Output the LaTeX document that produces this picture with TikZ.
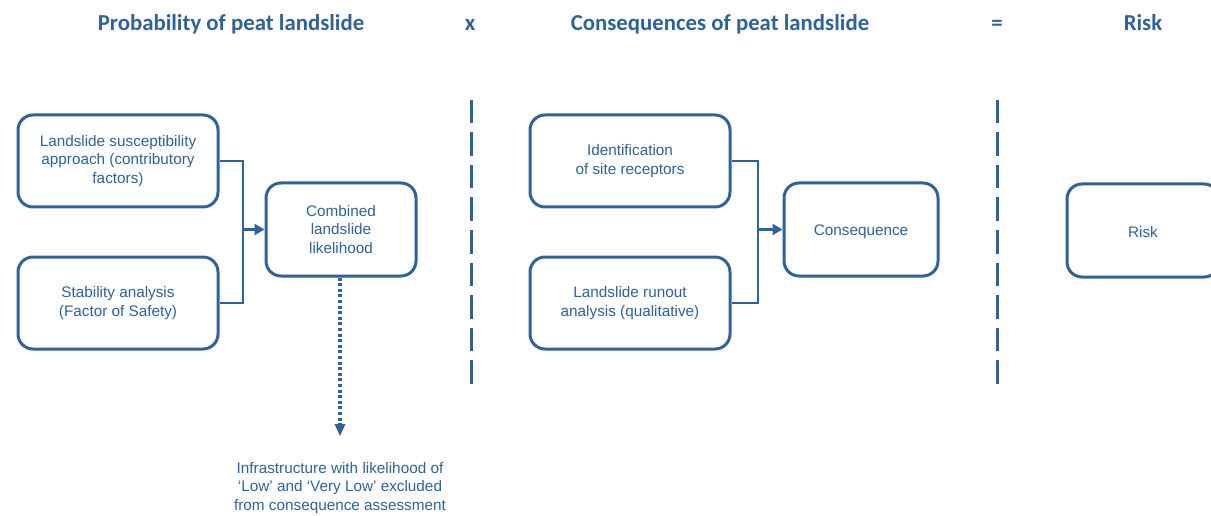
\documentclass[tikz,border=0pt]{standalone}
\usepackage{fontspec}
\setmainfont{Liberation Sans}
\newfontfamily\titlefont{Carlito}
\usetikzlibrary{arrows.meta,calc}
\definecolor{pblue}{RGB}{47,98,152}
\begin{document}
\begin{tikzpicture}[x=1pt,y=-1pt,
  box/.style={draw=pblue, line width=3pt, rounded corners=15pt, fill=white,
    align=center, text=pblue, font=\fontsize{15.3}{18.5}\selectfont, inner sep=0pt,
    execute at begin node={\rule{0pt}{15pt}}},
  ttl/.style={text=pblue, font=\titlefont\bfseries\fontsize{22.8}{26}\selectfont, anchor=base},
  conn/.style={draw=pblue, line width=2.6pt},
  arr/.style={conn, -{Triangle[length=10pt,width=11pt]}},
  sep/.style={draw=pblue, line width=3pt, dash pattern=on 23.5pt off 9pt},
  dotarr/.style={draw=pblue, line width=3.2pt, dash pattern=on 3pt off 2.6pt},
  note/.style={align=center, text=pblue, font=\fontsize{15.3}{18.5}\selectfont}
]
\useasboundingbox (0,0) rectangle (1211,516);

% titles
\node[ttl] (t1) at (231,31) {Probability of peat landslide};
\node[ttl] (t2) at (470,31) {x};
\node[ttl] (t3) at (720,31) {Consequences of peat landslide};
\node[ttl] (t4) at (997,31) {=};
\node[ttl] (t5) at (1143,31) {Risk};

% separators
\coordinate (s1a) at (471,100); \coordinate (s1b) at (471,386);
\coordinate (s2a) at (997,100); \coordinate (s2b) at (997,386);
\draw[sep] (s1a) -- (s1b);
\draw[sep] (s2a) -- (s2b);

% boxes
\node[box, minimum width=200pt, minimum height=92pt] (A) at (118,161)
  {Landslide susceptibility\\approach (contributory\\factors)};
\node[box, minimum width=200pt, minimum height=92pt] (B) at (118,303)
  {Stability analysis\\(Factor of Safety)};
\node[box, minimum width=150pt, minimum height=93pt] (C) at (341,229.5)
  {Combined\\landslide\\likelihood};
\node[box, minimum width=200pt, minimum height=92pt] (D) at (630,161)
  {Identification\\of site receptors};
\node[box, minimum width=200pt, minimum height=92pt] (E) at (630,303)
  {Landslide runout\\analysis (qualitative)};
\node[box, minimum width=154pt, minimum height=93pt] (F) at (861,229.5)
  {Consequence};
\node[box, minimum width=152pt, minimum height=93pt] (G) at (1143,230.5)
  {Risk};

% connectors
\coordinate (j1) at (243,229.5);
\draw[conn] (A.east) -| (j1) |- (B.east);
\draw[arr] (j1) -- (C.west);
\coordinate (j2) at (758,229.5);
\draw[conn] (D.east) -| (j2) |- (E.east);
\draw[arr] (j2) -- (F.west);

% dotted arrow and note
\coordinate (dend) at (340,436);
\draw[dotarr] (C.south -| dend) -- ($(dend)+(0,-10)$);
\fill[pblue] (dend) -- ++(-5.5,-12) -- ++(11,0) -- cycle;
\node[note] (N) at (340,488)
  {Infrastructure with likelihood of\\‘Low’ and ‘Very Low’ excluded\\from consequence assessment};
\end{tikzpicture}
\end{document}
